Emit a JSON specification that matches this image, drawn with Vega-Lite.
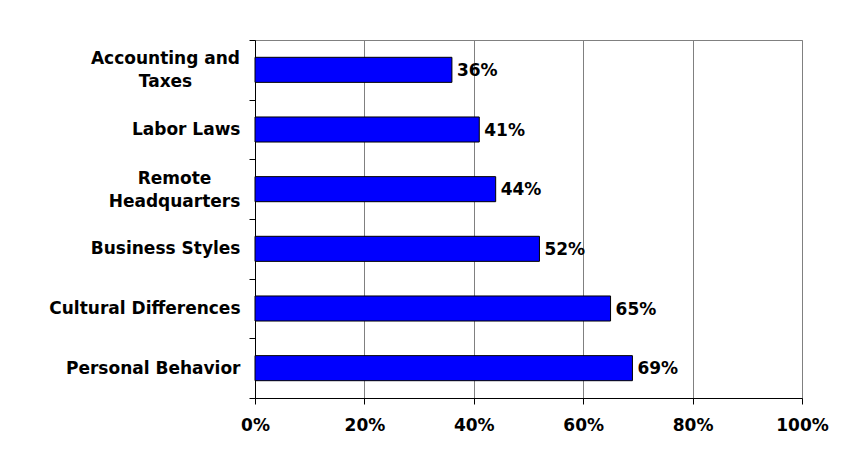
{
  "$schema": "https://vega.github.io/schema/vega-lite/v6.json",
  "autosize": {"type": "none"},
  "width": 547,
  "height": 358,
  "padding": {"left": 255, "top": 40, "right": 59, "bottom": 67},
  "background": "white",
  "data": {
    "values": [
      {"category": "Accounting and Taxes", "value": 0.36},
      {"category": "Labor Laws", "value": 0.41},
      {"category": "Remote Headquarters", "value": 0.44},
      {"category": "Business Styles", "value": 0.52},
      {"category": "Cultural Differences", "value": 0.65},
      {"category": "Personal Behavior", "value": 0.69}
    ]
  },
  "config": {
    "view": {"stroke": "#808080", "strokeWidth": 1},
    "font": "DejaVu Sans"
  },
  "encoding": {
    "y": {
      "field": "category",
      "type": "nominal",
      "sort": null,
      "scale": {"paddingInner": 0, "paddingOuter": 0},
      "axis": {
        "title": null,
        "domainColor": "black",
        "tickColor": "black",
        "tickSize": 6,
        "tickBand": "extent",
        "labelFont": "DejaVu Sans",
        "labelFontSize": 17,
        "labelFontWeight": "bold",
        "labelColor": "black",
        "labelLimit": 300,
        "labelLineHeight": 23,
        "labelExpr": "datum.value == 'Accounting and Taxes' ? ['Accounting and', 'Taxes'] : datum.value == 'Remote Headquarters' ? ['Remote', 'Headquarters'] : datum.value",
        "labelAlign": {"condition": {"test": "datum.value == 'Accounting and Taxes' || datum.value == 'Remote Headquarters'", "value": "center"}, "value": "right"},
        "labelOffset": {"condition": {"test": "datum.value == 'Accounting and Taxes' || datum.value == 'Remote Headquarters'", "value": -11}, "value": 0},
        "labelPadding": {"condition": [
          {"test": "datum.value == 'Accounting and Taxes'", "value": 84},
          {"test": "datum.value == 'Remote Headquarters'", "value": 75}
        ], "value": 9}
      }
    }
  },
  "layer": [
    {
      "mark": {"type": "bar", "fill": "#0000FF", "stroke": "black", "strokeWidth": 1, "height": {"band": 0.42}},
      "encoding": {
        "x": {
          "field": "value",
          "type": "quantitative",
          "scale": {"domain": [0, 1], "nice": false},
          "axis": {
            "title": null,
            "format": ".0%",
            "values": [0, 0.2, 0.4, 0.6, 0.8, 1],
            "grid": true,
            "gridColor": "#808080",
            "gridWidth": 1,
            "domainColor": "black",
            "tickColor": "black",
            "tickSize": 6,
            "labelFont": "DejaVu Sans",
            "labelFontSize": 17,
            "labelFontWeight": "bold",
            "labelColor": "black",
            "labelPadding": 13,
            "labelFlush": false
          }
        }
      }
    },
    {
      "mark": {"type": "text", "align": "left", "baseline": "middle", "dx": 5, "dy": 1, "font": "DejaVu Sans", "fontSize": 17, "fontWeight": "bold", "color": "black"},
      "encoding": {
        "x": {"field": "value", "type": "quantitative"},
        "text": {"field": "value", "type": "quantitative", "format": ".0%"}
      }
    }
  ]
}
